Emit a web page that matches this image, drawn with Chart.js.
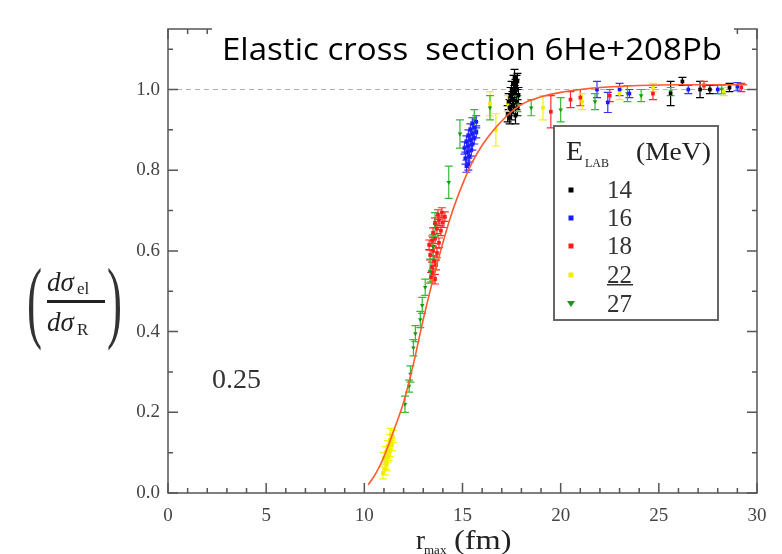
<!DOCTYPE html>
<html><head><meta charset="utf-8">
<script src="https://cdn.jsdelivr.net/npm/chart.js@4.4.1/dist/chart.umd.min.js"></script>
<style>html,body{margin:0;padding:0;background:#fff}canvas{display:block}</style>
</head><body>
<canvas id="c" width="782" height="554"></canvas>
<script>
const chartTitle = 'Elastic cross  section 6He+208Pb';
const legendHead = ['E', 'LAB', '(MeV)'];
const energies = ['14', '16', '18', '22', '27'];
const xTickLabels = ['0', '5', '10', '15', '20', '25', '30'];
const yTickLabels = ['0.0', '0.2', '0.4', '0.6', '0.8', '1.0'];
const noteText = '0.25';

// each point: [r_max (fm), dσel/dσR, error]
const e14 = [
  [17.3,0.94,0.02],[17.5,0.945,0.02],[17.7,0.935,0.02],[17.4,0.955,0.02],[17.6,0.96,0.02],
  [17.8,0.955,0.02],[17.35,0.97,0.02],[17.55,0.975,0.02],[17.75,0.97,0.02],[17.45,0.985,0.02],
  [17.65,0.99,0.02],[17.85,0.985,0.02],[17.5,1.0,0.02],[17.7,1.005,0.02],[17.6,1.015,0.02],
  [17.8,1.02,0.02],[17.65,1.03,0.02],[17.4,0.93,0.015],[17.75,1.0,0.035],
  [25.6,0.99,0.03],[26.2,1.02,0.01],[27.1,1.0,0.02],[27.6,1.0,0.01],[28.6,1.005,0.01]
];
const e16 = [
  [15.2,0.81,0.015],[15.3,0.815,0.015],[15.15,0.83,0.015],[15.35,0.835,0.015],[15.25,0.845,0.015],
  [15.45,0.85,0.015],[15.1,0.855,0.015],[15.3,0.86,0.015],[15.5,0.865,0.015],[15.2,0.87,0.015],
  [15.4,0.875,0.015],[15.6,0.88,0.015],[15.3,0.885,0.015],[15.5,0.89,0.015],[15.7,0.895,0.015],
  [15.4,0.9,0.015],[15.6,0.905,0.015],[15.5,0.915,0.015],[15.7,0.92,0.015],
  [21.85,1.0,0.02],[22.4,0.968,0.025],[23.0,1.0,0.015],[23.5,0.99,0.01],[26.5,1.0,0.01],
  [28.0,1.0,0.01],[29.0,1.007,0.01]
];
const e18 = [
  [13.4,0.535,0.012],[13.5,0.545,0.012],[13.6,0.53,0.012],[13.45,0.56,0.012],[13.55,0.575,0.012],
  [13.65,0.565,0.012],[13.35,0.59,0.012],[13.5,0.6,0.012],[13.7,0.595,0.012],[13.3,0.615,0.012],
  [13.45,0.625,0.012],[13.6,0.63,0.012],[13.8,0.62,0.012],[13.5,0.645,0.012],[13.7,0.655,0.012],
  [13.9,0.65,0.012],[13.6,0.67,0.012],[13.8,0.675,0.012],[14.0,0.67,0.012],[13.75,0.69,0.012],
  [13.95,0.695,0.012],[14.1,0.685,0.012],
  [19.5,0.945,0.04],[20.5,0.975,0.02],[21.0,0.98,0.02],[22.5,0.985,0.015],[24.7,0.99,0.015],
  [27.3,1.01,0.01],[29.2,1.005,0.01]
];
const e22 = [
  [10.95,0.05,0.015],[11.05,0.06,0.015],[11.1,0.075,0.015],[11.0,0.085,0.015],[11.2,0.09,0.015],
  [11.1,0.1,0.015],[11.3,0.105,0.015],[11.2,0.115,0.015],[11.4,0.12,0.015],[11.3,0.13,0.015],
  [11.45,0.14,0.015],[11.35,0.145,0.015],[11.15,0.07,0.015],[11.25,0.095,0.015],
  [16.4,0.965,0.03],[16.7,0.9,0.04],[17.3,0.965,0.02],[19.1,0.955,0.03],[21.1,0.97,0.02],
  [23.0,0.99,0.015],[24.7,1.005,0.01],[28.3,0.995,0.01]
];
const e27 = [
  [12.07,0.22,0.02],[12.28,0.265,0.015],[12.35,0.295,0.02],[12.5,0.36,0.02],[12.6,0.395,0.02],
  [12.85,0.43,0.02],[12.95,0.465,0.02],[13.1,0.51,0.02],[13.35,0.55,0.03],[13.5,0.61,0.03],
  [13.6,0.665,0.03],[14.3,0.77,0.04],[14.87,0.89,0.035],[15.6,0.925,0.025],[16.4,0.955,0.03],
  [17.8,0.965,0.02],[18.5,0.955,0.02],[20.0,0.95,0.03],[21.75,0.97,0.02],[23.4,0.99,0.02],
  [24.1,0.985,0.015],[25.6,0.995,0.01],[28.2,1.0,0.01]
];
const curveX = [10.2,10.6,11.0,11.5,12.0,12.5,13.0,13.5,14.0,14.5,15.0,15.5,16.0,16.5,17.0,17.5,18.0,19.0,20.0,21.0,22.0,24.0,26.0,29.5];
const curveY = [0.02,0.05,0.09,0.155,0.225,0.32,0.43,0.53,0.62,0.70,0.765,0.82,0.862,0.895,0.922,0.945,0.963,0.982,0.993,1.0,1.005,1.01,1.012,1.012];

const seriesColors = ['#000000', '#1a1aff', '#ff1a1a', '#f2ec00', '#159a15'];
const errColors = ['#000000', '#3333ff', '#ff2a2a', '#f5ef10', '#33bb33'];
const seriesData = [e14, e16, e18, e22, e27];
const seriesStyles = ['rect', 'rect', 'rect', 'rect', 'triangle'];

const datasets = seriesData.map((pts, i) => ({
  type: 'scatter',
  label: energies[i],
  data: pts.map(p => ({x: p[0], y: p[1], err: p[2]})),
  backgroundColor: seriesColors[i],
  borderColor: seriesColors[i],
  borderWidth: 0,
  pointStyle: seriesStyles[i],
  pointRotation: seriesStyles[i] === 'triangle' ? 180 : 0,
  pointRadius: 2.6,
  errColor: errColors[i],
  order: 2
}));
datasets.push({
  type: 'line',
  label: 'fit',
  data: curveX.map((x, i) => ({x, y: curveY[i]})),
  borderColor: '#ff5a30',
  borderWidth: 1.6,
  pointRadius: 0,
  fill: false,
  cubicInterpolationMode: 'monotone',
  order: 1
});

const SERIF = '"Liberation Serif", "DejaVu Serif", serif';

const refLine = {
  id: 'refLine',
  beforeDatasetsDraw(chart) {
    const {ctx, chartArea: a, scales: {y}} = chart;
    const py = y.getPixelForValue(1.0);
    ctx.save();
    ctx.strokeStyle = '#b0b0b0';
    ctx.lineWidth = 1;
    ctx.setLineDash([5, 4]);
    ctx.beginPath(); ctx.moveTo(a.left, py); ctx.lineTo(a.right, py); ctx.stroke();
    ctx.restore();
  }
};

const errorBars = {
  id: 'errorBars',
  beforeDatasetsDraw(chart) {
    const {ctx, scales: {x, y}} = chart;
    ctx.save();
    ctx.lineWidth = 1.2;
    chart.data.datasets.forEach((d) => {
      if (!d.errColor) return;
      ctx.strokeStyle = d.errColor;
      d.data.forEach(p => {
        const px = x.getPixelForValue(p.x);
        const y1 = y.getPixelForValue(p.y - p.err);
        const y2 = y.getPixelForValue(p.y + p.err);
        ctx.beginPath();
        ctx.moveTo(px, y1); ctx.lineTo(px, y2);
        ctx.moveTo(px - 4, y1); ctx.lineTo(px + 4, y1);
        ctx.moveTo(px - 4, y2); ctx.lineTo(px + 4, y2);
        ctx.stroke();
      });
    });
    ctx.restore();
  }
};

const frame = {
  id: 'frame',
  afterDatasetsDraw(chart) {
    const {ctx, chartArea: a, scales: {x, y}} = chart;
    ctx.save();
    ctx.strokeStyle = '#555';
    ctx.lineWidth = 1.5;
    ctx.strokeRect(a.left, a.top, a.width, a.height);
    ctx.beginPath();
    for (let v = 0; v <= 30; v++) {
      const px = x.getPixelForValue(v);
      const L = v % 5 === 0 ? 10 : 5;
      ctx.moveTo(px, a.bottom); ctx.lineTo(px, a.bottom - L);
      ctx.moveTo(px, a.top); ctx.lineTo(px, a.top + L);
    }
    for (let k = 0; k <= 11; k++) {
      const py = y.getPixelForValue(k / 10);
      if (py < a.top) continue;
      const L = k % 2 === 0 ? 10 : 5;
      ctx.moveTo(a.left, py); ctx.lineTo(a.left + L, py);
      ctx.moveTo(a.right, py); ctx.lineTo(a.right - L, py);
    }
    ctx.stroke();
    ctx.restore();
  }
};

const texts = {
  id: 'texts',
  afterDraw(chart) {
    const {ctx} = chart;
    ctx.save();
    // title on a white box (covers the top frame like the pasted label in the original)
    ctx.fillStyle = '#fff';
    ctx.fillRect(212, 22, 522, 44);
    ctx.fillStyle = '#000';
    ctx.font = '31px "Open Sans", Lato, sans-serif';
    ctx.textBaseline = 'alphabetic';
    ctx.textAlign = 'left';
    const tw = ctx.measureText(chartTitle).width;
    ctx.save();
    ctx.translate(222, 60);
    ctx.scale(500 / tw, 1);
    ctx.fillText(chartTitle, 0, 0);
    ctx.restore();

    // note
    ctx.fillStyle = '#333';
    ctx.font = '28px ' + SERIF;
    ctx.fillText(noteText, 212, 388);

    // x axis title r_max (fm)
    ctx.fillStyle = '#222';
    ctx.font = '27px ' + SERIF;
    ctx.fillText('r', 416, 549);
    ctx.font = '13px ' + SERIF;
    ctx.fillText('max', 424, 554);
    ctx.font = '27px ' + SERIF;
    ctx.save();
    ctx.translate(454, 549);
    ctx.scale(1.2, 1);
    ctx.fillText('(fm)', 0, 0);
    ctx.restore();

    // y axis label (dσel / dσR)
    ctx.fillStyle = '#333';
    ctx.save();
    ctx.font = '90px ' + SERIF;
    ctx.translate(27, 331);
    ctx.scale(0.5, 1);
    ctx.fillText('(', 0, 0);
    ctx.restore();
    ctx.save();
    ctx.font = '90px ' + SERIF;
    ctx.translate(107, 331);
    ctx.scale(0.5, 1);
    ctx.fillText(')', 0, 0);
    ctx.restore();
    ctx.fillStyle = '#222';
    ctx.font = 'italic 27px ' + SERIF;
    ctx.fillText('d\u03C3', 47, 291);
    ctx.fillText('d\u03C3', 47, 331);
    ctx.font = '17px ' + SERIF;
    ctx.fillText('el', 77, 294);
    ctx.fillText('R', 77, 335);
    ctx.fillRect(47, 300, 58, 3);

    // legend
    const lx = 554, ly = 126, lw = 164, lh = 194;
    ctx.fillStyle = '#fff';
    ctx.fillRect(lx, ly, lw, lh);
    ctx.strokeStyle = '#666';
    ctx.lineWidth = 2;
    ctx.strokeRect(lx, ly, lw, lh);
    ctx.fillStyle = '#222';
    ctx.font = '28px ' + SERIF;
    ctx.fillText(legendHead[0], 566, 160);
    ctx.font = '12px ' + SERIF;
    ctx.fillText(legendHead[1], 585, 167);
    ctx.font = '25px ' + SERIF;
    ctx.save();
    ctx.translate(636, 160);
    ctx.scale(1.1, 1);
    ctx.fillText(legendHead[2], 0, 0);
    ctx.restore();
    const ys = [190, 218, 246, 275, 304];
    chart.data.datasets.forEach((d, i) => {
      if (!d.errColor) return;
      const cy = ys[i];
      ctx.fillStyle = d.backgroundColor;
      if (d.pointStyle === 'triangle') {
        ctx.beginPath();
        ctx.moveTo(567, cy - 3); ctx.lineTo(575, cy - 3); ctx.lineTo(571, cy + 3); ctx.closePath(); ctx.fill();
      } else {
        ctx.fillRect(568.5, cy - 2.5, 5, 5);
      }
      ctx.fillStyle = '#333';
      ctx.font = '25px ' + SERIF;
      ctx.textBaseline = 'middle';
      ctx.fillText(d.label, 607, cy + 1);
      ctx.textBaseline = 'alphabetic';
    });
    ctx.fillStyle = '#333';
    ctx.fillRect(607, 284, 26, 1.5);
    ctx.restore();
  }
};

new Chart(document.getElementById('c'), {
  data: {datasets},
  options: {
    responsive: false,
    animation: false,
    devicePixelRatio: 1,
    layout: {padding: {left: 0, right: 25, top: 29, bottom: 0}},
    plugins: {legend: {display: false}, tooltip: {enabled: false}, title: {display: false}},
    scales: {
      x: {
        type: 'linear', min: 0, max: 30,
        grid: {display: false, drawTicks: false},
        border: {display: false},
        ticks: {stepSize: 5, padding: 12, color: '#444', font: {family: SERIF, size: 19},
          callback: (v) => xTickLabels[Math.round(v / 5)]},
        afterFit: (s) => { s.height = 61; }
      },
      y: {
        type: 'linear', min: 0, max: 1.15,
        grid: {display: false, drawTicks: false},
        border: {display: false},
        ticks: {stepSize: 0.2, includeBounds: false, padding: 8, color: '#444', font: {family: SERIF, size: 19},
          callback: (v) => yTickLabels[Math.round(v / 0.2)]},
        afterFit: (s) => { s.width = 168; }
      }
    }
  },
  plugins: [refLine, errorBars, frame, texts]
});
</script>
</body></html>
